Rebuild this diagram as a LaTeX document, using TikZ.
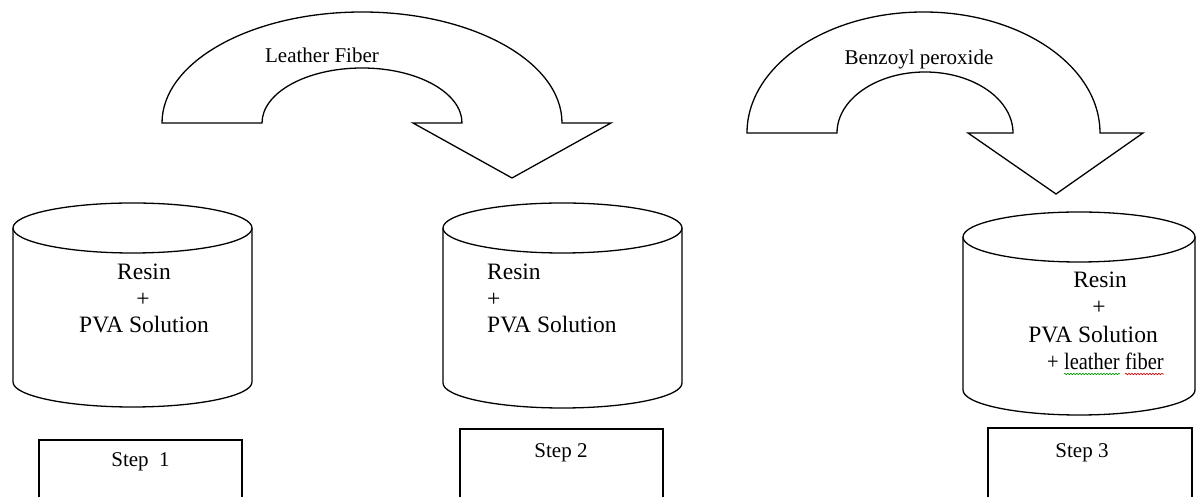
\documentclass[tikz,border=0pt]{standalone}
\usepackage{fontspec}
\setmainfont{Liberation Serif}
\usetikzlibrary{decorations.pathmorphing}
\tikzset{
  shapeline/.style={draw=black, line width=1.3pt, fill=white, line join=miter},
  big/.style={font=\fontsize{23.5}{27}\selectfont, inner sep=0pt},
  small/.style={font=\fontsize{21}{25}\selectfont, inner sep=0pt},
  wavy/.style={line width=0.6pt, decorate, decoration={snake, amplitude=0.7pt, segment length=3pt}},
}
\newcommand\mycyl[4]{%
  \draw[shapeline] (#1-#2,#3) -- (#1-#2,#4) arc[start angle=180,end angle=360,x radius=#2,y radius=25] -- (#1+#2,#3);
  \draw[shapeline] (#1,#3) ellipse[x radius=#2,y radius=25];
}
\newcommand\narrow[1]{\scalebox{0.87}[1]{#1}}
\begin{document}
\begin{tikzpicture}[x=1pt,y=1pt]
\useasboundingbox (0,0) rectangle (1196,497);
\clip (0,0) rectangle (1196,497);

% curved arrow 1
\draw[shapeline] (162,374) arc[start angle=180,end angle=0,x radius=200,y radius=111]
  -- (611,374) -- (512,319) -- (413,374) -- (462,374)
  arc[start angle=0,end angle=180,x radius=100,y radius=55] -- cycle;
\node[small, anchor=base] (lf) at (322,434) {Leather Fiber};

% curved arrow 2
\draw[shapeline] (747,364) arc[start angle=180,end angle=0,x radius=176.5,y radius=121]
  -- (1143,364) -- (1056,303) -- (968,364) -- (1013,364)
  arc[start angle=0,end angle=180,x radius=88,y radius=61] -- cycle;
\node[small, anchor=base] (bp) at (919,432) {Benzoyl peroxide};

% cylinders
\mycyl{132.5}{119.5}{269}{115}
\mycyl{562.5}{119.5}{269}{114}
\mycyl{1079}{116}{260}{107}

% cylinder 1 text
\node[big, anchor=base] (c1a) at (144,217) {Resin};
\node[big, anchor=base] (c1b) at (143,190) {+};
\node[big, anchor=base] (c1c) at (144,164) {PVA Solution};

% cylinder 2 text
\node[big, anchor=base west] (c2a) at (487,217) {Resin};
\node[big, anchor=base west] (c2b) at (487,190) {+};
\node[big, anchor=base west] (c2c) at (487,164) {PVA Solution};

% cylinder 3 text
\node[big, anchor=base] (c3a) at (1100,209) {Resin};
\node[big, anchor=base] (c3b) at (1099,182) {+};
\node[big, anchor=base] (c3c) at (1093,154) {PVA Solution};
\node[big, anchor=base west] (c3p) at (1047,127) {\narrow{+}};
\node[big, anchor=base west] (c3l) at ([xshift=5pt]c3p.base east) {\narrow{leather}};
\node[big, anchor=base west] (c3f) at ([xshift=5pt]c3l.base east) {\narrow{fiber}};
\draw[wavy, green!60!black] ([yshift=-4pt]c3l.base west) -- ([yshift=-4pt]c3l.base east);
\draw[wavy, red!80!black] ([yshift=-4pt]c3f.base west) -- ([yshift=-4pt]c3f.base east);

% step boxes
\draw[shapeline] (39,57) rectangle (242,-20);
\node[small, anchor=base] (s1) at (140.5,30) {Step\ \ 1};
\draw[shapeline] (460,68) rectangle (663,-20);
\node[small, anchor=base] (s2) at (561,39) {Step 2};
\draw[shapeline] (988,69) rectangle (1192,-20);
\node[small, anchor=base] (s3) at (1082,39) {Step 3};
\end{tikzpicture}
\end{document}
